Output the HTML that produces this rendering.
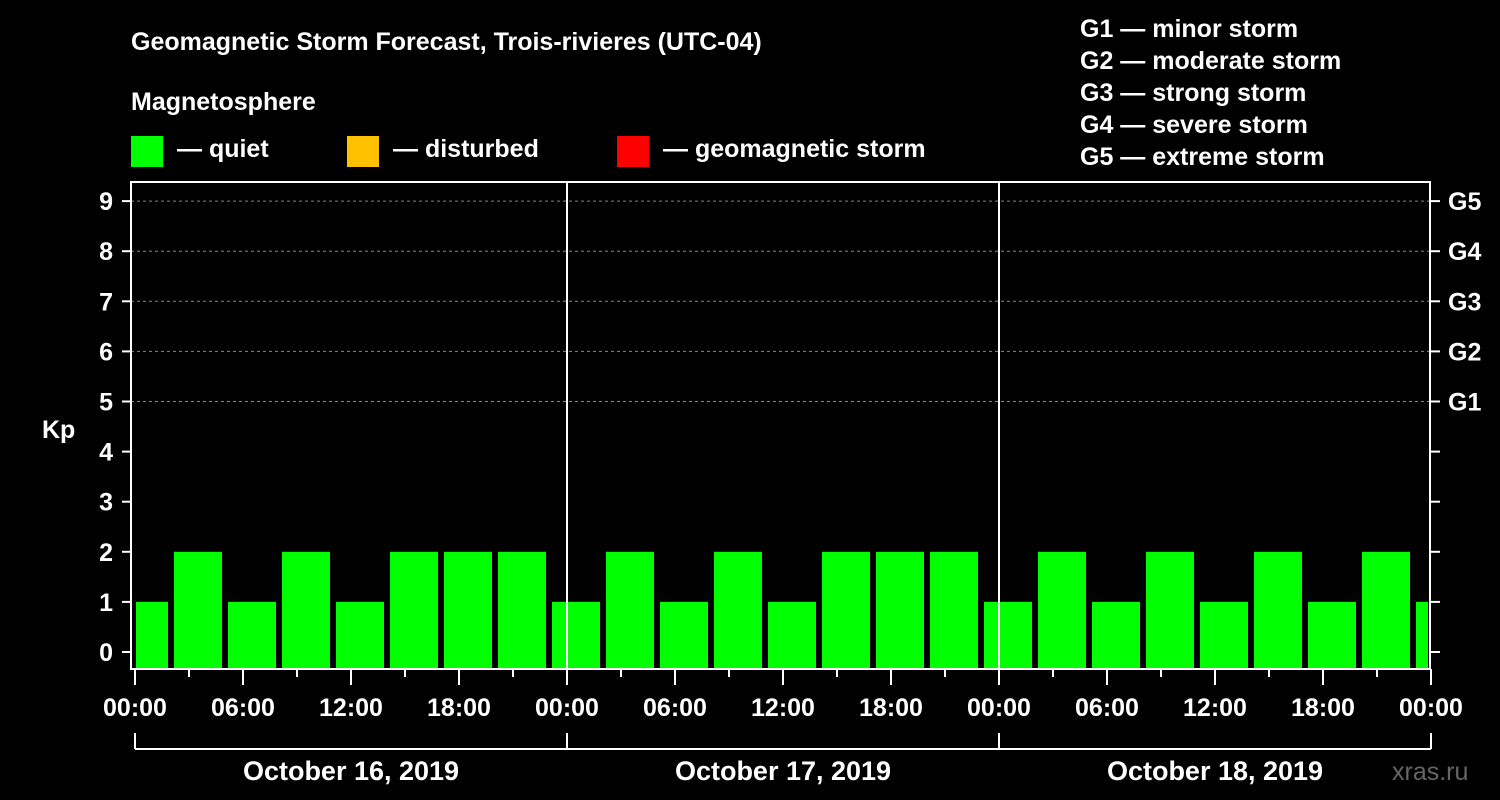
<!DOCTYPE html>
<html><head><meta charset="utf-8"><style>
html,body{margin:0;padding:0;background:#000;}
svg{display:block;font-family:"Liberation Sans",Arial,sans-serif;font-weight:bold;}
</style></head><body>
<svg id="chart" width="1500" height="800" viewBox="0 0 1500 800">
<rect width="1500" height="800" fill="#000"/>
<text x="131" y="50" fill="#fff" font-size="25">Geomagnetic Storm Forecast, Trois-rivieres (UTC-04)</text>
<text x="131" y="110" fill="#fff" font-size="25">Magnetosphere</text>
<g><rect x="131" y="136" width="32" height="31" fill="#00ff00"/><text x="177" y="157" fill="#fff" font-size="25">— quiet</text></g>
<g><rect x="347" y="136" width="32" height="31" fill="#ffc000"/><text x="393" y="157" fill="#fff" font-size="25">— disturbed</text></g>
<g><rect x="617" y="136" width="32" height="31" fill="#ff0000"/><text x="663" y="157" fill="#fff" font-size="25">— geomagnetic storm</text></g>
<g fill="#fff" font-size="25">
<text x="1080" y="37">G1 — minor storm</text>
<text x="1080" y="69">G2 — moderate storm</text>
<text x="1080" y="101">G3 — strong storm</text>
<text x="1080" y="133">G4 — severe storm</text>
<text x="1080" y="165">G5 — extreme storm</text>
</g>
<text x="42" y="438" fill="#fff" font-size="25">Kp</text>
<text x="1392" y="780" fill="#666" font-size="25" font-weight="normal">xras.ru</text>
<g id="grid"></g><g id="bars"></g><g id="axes"></g>
</svg>
<script>
const kpValues=[1,2,1,2,1,2,2,2,1,2,1,2,1,2,2,2,1,2,1,2,1,2,1,2,1];
const dayLabels=["October 16, 2019","October 17, 2019","October 18, 2019"];
const hourLabels=["00:00","06:00","12:00","18:00"];
const yTicks=[0,1,2,3,4,5,6,7,8,9];
const gLabels=["G1","G2","G3","G4","G5"];
const gKp=[5,6,7,8,9];
const NS="http://www.w3.org/2000/svg";
const X0=135,PX_PER_HOUR=18,L=131,R=1430,T=182,B=669;
const x=h=>X0+h*PX_PER_HOUR;
const y=k=>652-k*50.1;
function mk(tag,attrs,parent,text){const e=document.createElementNS(NS,tag);for(const k in attrs)e.setAttribute(k,attrs[k]);if(text!==undefined)e.textContent=text;parent.appendChild(e);return e;}
const grid=document.getElementById('grid'),bars=document.getElementById('bars'),axes=document.getElementById('axes');
gKp.forEach(k=>{const l=mk('line',{x1:L,x2:R,y1:y(k),y2:y(k),stroke:'#888','stroke-dasharray':'3,3','stroke-width':1},grid);

});
kpValues.forEach((v,i)=>{const c=x(i*3+0.5);let x1=c-24,x2=c+24;x1=Math.max(x1,L+5);x2=Math.min(x2,R-2);
const col=v>=5?'#ff0000':(v>=4?'#ffc000':'#00ff00');
const r=mk('rect',{x:x1,y:y(v),width:x2-x1,height:668-y(v),fill:col},bars);

});
// frame
mk('rect',{x:L,y:T,width:R-L,height:B-T,fill:'none',stroke:'#fff','stroke-width':2},axes);
[1,2].forEach(d=>{mk('line',{x1:x(d*24),x2:x(d*24),y1:T,y2:B,stroke:'#fff','stroke-width':2},axes);});
yTicks.forEach(k=>{mk('line',{x1:122,x2:L,y1:y(k),y2:y(k),stroke:'#fff','stroke-width':2},axes);
mk('line',{x1:R,x2:R+10,y1:y(k),y2:y(k),stroke:'#fff','stroke-width':2},axes);
const t=mk('text',{x:113,y:y(k)+9,fill:'#fff','font-size':25,'text-anchor':'end'},axes,String(k));

});
gLabels.forEach((g,i)=>{const t=mk('text',{x:1448,y:y(gKp[i])+9,fill:'#fff','font-size':25},axes,g);

});
for(let h=0;h<=72;h+=3){const major=h%6===0;mk('line',{x1:x(h),x2:x(h),y1:B,y2:major?685:677,stroke:'#fff','stroke-width':2},axes);
if(major){const t=mk('text',{x:x(h),y:716,fill:'#fff','font-size':25,'text-anchor':'middle'},axes,hourLabels[(h/6)%4]);

}}
mk('line',{x1:x(0),x2:x(72),y1:749,y2:749,stroke:'#fff','stroke-width':2},axes);
for(let d=0;d<=3;d++)mk('line',{x1:x(d*24),x2:x(d*24),y1:733,y2:749,stroke:'#fff','stroke-width':2},axes);
dayLabels.forEach((s,d)=>{const t=mk('text',{x:x(d*24+12),y:780,fill:'#fff','font-size':27,'text-anchor':'middle'},axes,s);

});
</script>
</body></html>
